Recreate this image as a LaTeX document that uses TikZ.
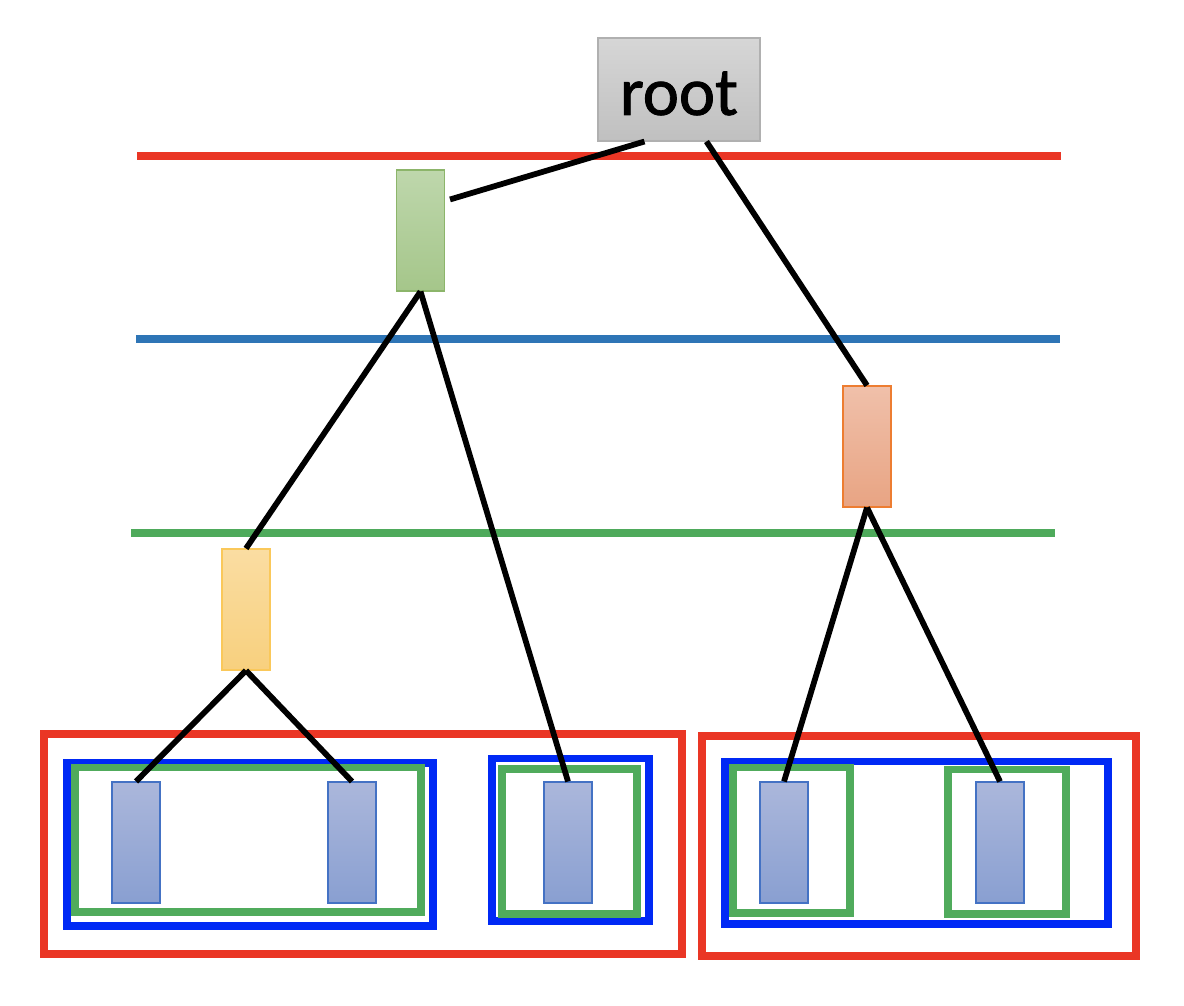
\documentclass[tikz,border=0pt]{standalone}
\usepackage{fontspec}
\setmainfont{Carlito}
\newfontfamily\rootfont[FakeBold=1.2]{Carlito}
\definecolor{lred}{RGB}{234,54,37}
\definecolor{lblue}{RGB}{46,117,182}
\definecolor{lgreen}{RGB}{78,170,91}
\definecolor{bblue}{RGB}{0,41,245}
\definecolor{bgreen}{RGB}{80,171,92}
\definecolor{leaftop}{RGB}{171,183,219}
\definecolor{leafbot}{RGB}{137,159,209}
\definecolor{leafbd}{RGB}{68,114,196}
\begin{document}
\begin{tikzpicture}[x=0.02cm,y=-0.02cm,
  hline/.style={line width=0.16cm},
  grp/.style={line width=0.16cm},
  link/.style={line width=0.115cm, black},
  box/.style={line width=0.6pt, minimum width=0.96cm, minimum height=2.42cm, inner sep=0pt},
  leaf/.style={box, draw=leafbd, top color=leaftop, bottom color=leafbot},
  gnode/.style={box, draw={rgb,255:red,140;green,181;blue,106}, top color={rgb,255:red,190;green,215;blue,172}, bottom color={rgb,255:red,165;green,198;blue,138}},
  onode/.style={box, draw={rgb,255:red,237;green,125;blue,49}, top color={rgb,255:red,240;green,192;blue,170}, bottom color={rgb,255:red,232;green,164;blue,131}},
  ynode/.style={box, draw={rgb,255:red,250;green,200;blue,90}, top color={rgb,255:red,250;green,221;blue,162}, bottom color={rgb,255:red,248;green,208;blue,126}},
  rootnode/.style={draw={rgb,255:red,176;green,176;blue,176}, line width=0.6pt, top color={rgb,255:red,214;green,214;blue,214}, bottom color={rgb,255:red,192;green,192;blue,192}, minimum width=3.24cm, minimum height=2.06cm, inner sep=0pt, font=\rootfont\fontsize{39}{47}\selectfont}
]
\useasboundingbox (0,0) rectangle (1184,1006);
% level lines
\draw[hline, lred] (137,156) -- (1061,156);
\draw[hline, lblue] (136,339) -- (1060,339);
\draw[hline, lgreen] (131,533) -- (1055,533);
% group boxes
\draw[grp, lred] (44,734) rectangle (682,954);
\draw[grp, lred] (701.5,736) rectangle (1136,955.5);
\draw[grp, bblue] (66.7,763) rectangle (433,926);
\draw[grp, bblue] (492,758.5) rectangle (648.5,921);
\draw[grp, bblue] (725,761.5) rectangle (1108,924);
\draw[grp, bgreen] (75,767.5) rectangle (421,912);
\draw[grp, bgreen] (502,769) rectangle (637,914);
\draw[grp, bgreen] (732.5,767.5) rectangle (850,912.5);
\draw[grp, bgreen] (948,769.5) rectangle (1066,914);
% nodes
\node[rootnode] (root) at (679,89.5) {\raisebox{-0.08cm}[\height][\depth]{root}};
\node[gnode] (g) at (420.5,230.5) {};
\node[onode] (o) at (867,446.5) {};
\node[ynode] (y) at (246,609.5) {};
\node[leaf] (l1) at (136,842.5) {};
\node[leaf] (l2) at (352,842.5) {};
\node[leaf] (l3) at (568,842.5) {};
\node[leaf] (l4) at (784,842.5) {};
\node[leaf] (l5) at (1000,842.5) {};
% connectors
\coordinate (gstart) at ([xshift=0.1cm,yshift=-0.6cm]g.north east);
\draw[link] (gstart) -- ([xshift=0.94cm]root.south west);
\draw[link] ([xshift=2.18cm]root.south west) -- (o.north);
\draw[link] (g.south) -- (y.north);
\draw[link] (g.south) -- (l3.north);
\draw[link] (y.south) -- (l1.north);
\draw[link] (y.south) -- (l2.north);
\draw[link] (o.south) -- (l4.north);
\draw[link] (o.south) -- (l5.north);
\end{tikzpicture}
\end{document}
